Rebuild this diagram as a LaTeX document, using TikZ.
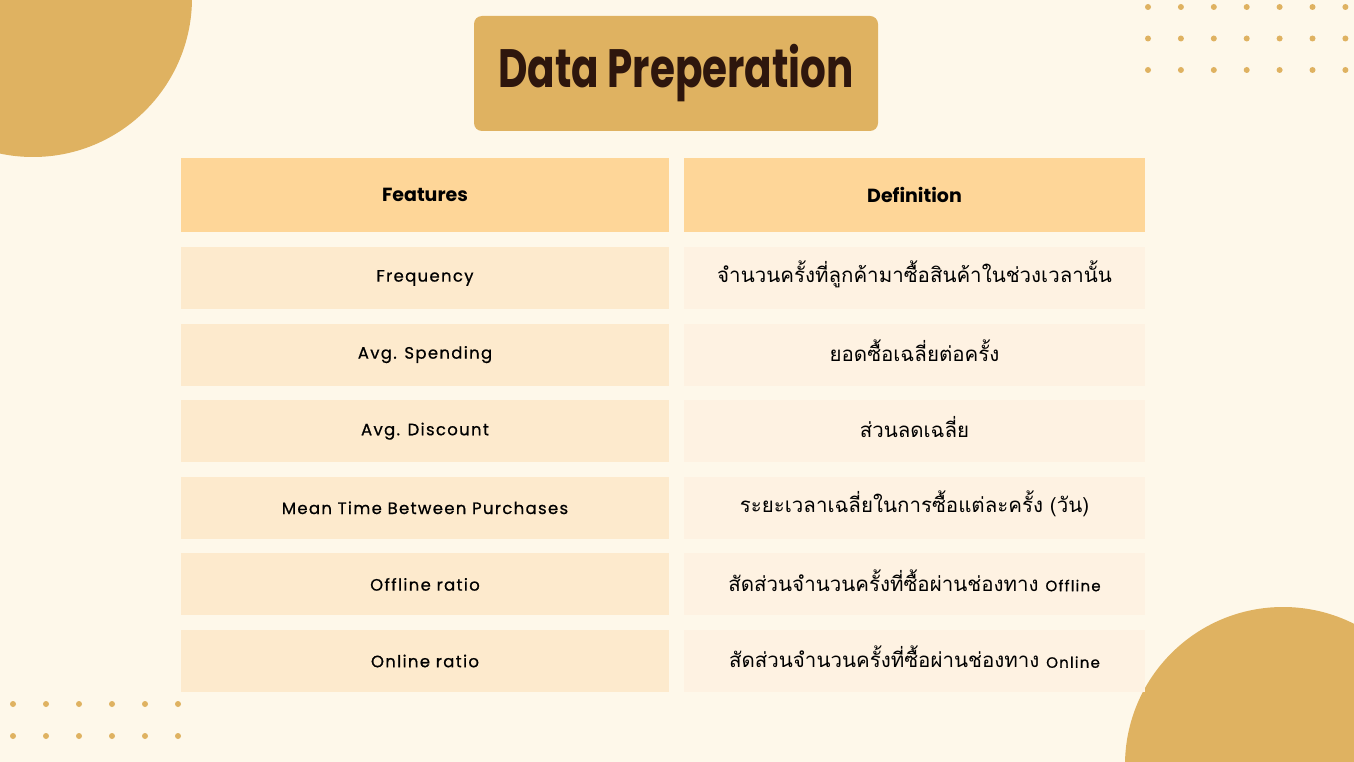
\documentclass[tikz,border=0pt]{standalone}
\usepackage{fontspec}
\usepackage{graphicx}
\setmainfont{Poppins}
\newfontfamily\thaifont[Script=Thai]{Loma}
\newfontfamily\featfont[LetterSpace=8,FakeBold=0.7]{Poppins}
\definecolor{bgcream}{HTML}{FEF8EA}
\definecolor{mustard}{HTML}{DFB261}
\definecolor{headcell}{HTML}{FED698}
\definecolor{featcell}{HTML}{FDEACD}
\definecolor{defcell}{HTML}{FEF2E2}
\definecolor{titleink}{HTML}{2E160D}
\newcommand{\engword}[1]{{\featfont\fontsize{15}{18}\selectfont #1}}

\begin{document}
\begin{tikzpicture}[x=1pt,y=-1pt,
	cell/.style={minimum height=62pt, inner sep=0pt},
	featbox/.style={cell, fill=featcell, minimum width=488pt, font=\featfont\fontsize{16.5}{19}\selectfont},
	defbox/.style={cell, fill=defcell, minimum width=461pt, font=\thaifont\fontsize{20.5}{24}\selectfont},
	headbox/.style={fill=headcell, minimum height=74pt, inner sep=0pt, font=\bfseries\fontsize{19}{22}\selectfont},
	dot/.style={fill=mustard}]
	\useasboundingbox (0,0) rectangle (1354,762);
	\fill[bgcream] (0,0) rectangle (1354,762);
	\begin{scope}
		\clip (0,0) rectangle (1354,762);
		\fill[mustard] (33,-2) circle (159pt);
		\fill[mustard] (1283,765) circle (158pt);
	\end{scope}
	\foreach \x in {0,...,6} \foreach \y in {0,1,2} \fill[dot] (1148+32.9*\x,7+31.5*\y) circle (3pt);
	\foreach \x in {0,...,5} \foreach \y in {0,1} \fill[dot] (13+33*\x,704+32*\y) circle (3pt);
	\node[fill=mustard, rounded corners=8pt, minimum width=404pt, minimum height=115pt, text=titleink, font=\bfseries\fontsize{54}{60}\selectfont] (title) at (676,73.5) {\scalebox{0.75}[1]{Data Preperation}};
	\node[headbox, minimum width=488pt] (feathead) at (425,195) {Features};
	\node[headbox, minimum width=461pt] (defhead) at (914.5,195) {Definition};
	\foreach \feat/\defn [count=\i from 0] in {Frequency/จำนวนครั้งที่ลูกค้ามาซื้อสินค้าในช่วงเวลานั้น, Avg. Spending/ยอดซื้อเฉลี่ยต่อครั้ง, Avg. Discount/ส่วนลดเฉลี่ย, Mean Time Between Purchases/ระยะเวลาเฉลี่ยในการซื้อแต่ละครั้ง (วัน), Offline ratio/{สัดส่วนจำนวนครั้งที่ซื้อผ่านช่องทาง \engword{Offline}}, Online ratio/{สัดส่วนจำนวนครั้งที่ซื้อผ่านช่องทาง \engword{Online}}}
	{
		\node[featbox] (feat\i) at (425,278+76.6*\i) {\feat};
		\node[defbox] (def\i) at (914.5,278+76.6*\i) {};
		\node[font=\thaifont\fontsize{20.5}{24}\selectfont, inner sep=0pt] (deftext\i) at ([yshift=4pt]def\i.center) {\defn};
	}
\end{tikzpicture}
\end{document}
